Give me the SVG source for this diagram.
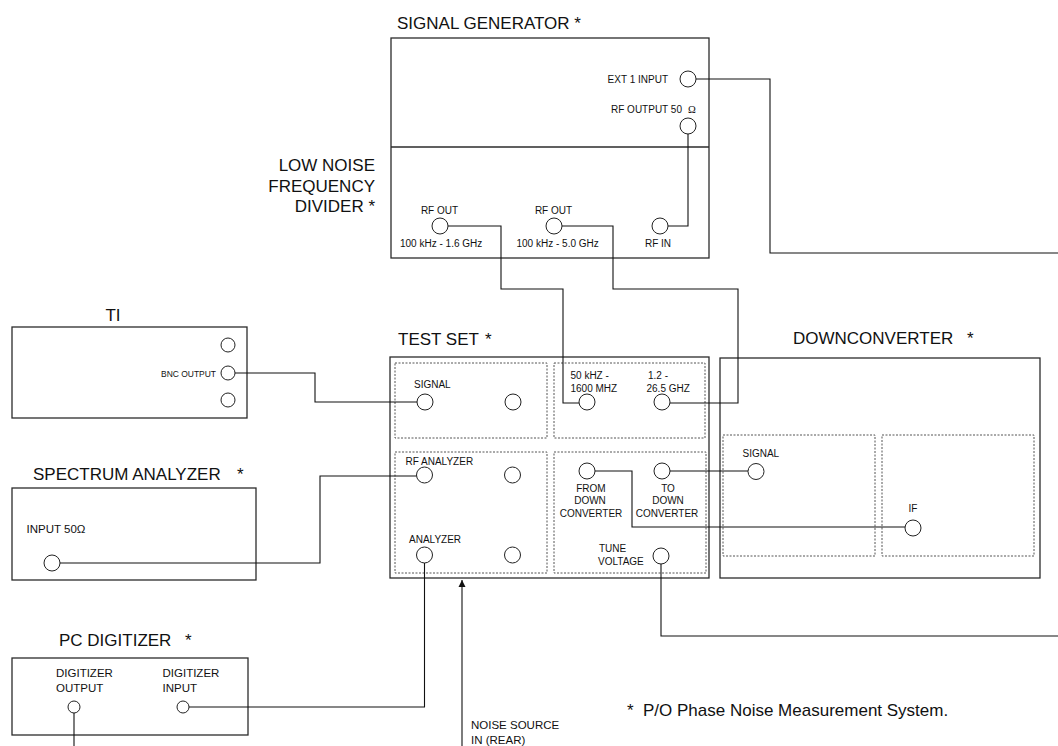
<svg xmlns="http://www.w3.org/2000/svg" width="1058" height="746" viewBox="0 0 1058 746">
<defs>
<style>
.box{fill:#fff;stroke:#2b2b2b;stroke-width:1.3}
.panel{fill:none;stroke:#555;stroke-width:1;stroke-dasharray:2 1.5}
.port{fill:#fff;stroke:#222;stroke-width:1}
.wire{fill:none;stroke:#111;stroke-width:1.1}
.title{font-family:"Liberation Sans",Arial,sans-serif;font-size:17px;fill:#111}
.lbl{font-family:"Liberation Sans",Arial,sans-serif;font-size:10px;fill:#111}
.lbl2{font-family:"Liberation Sans",Arial,sans-serif;font-size:11.5px;fill:#111}
.ser{font-family:"Liberation Serif","Times New Roman",serif;font-size:10.5px;fill:#111}
.mid{text-anchor:middle}
.end{text-anchor:end}
</style>
<marker id="arr" viewBox="0 0 10 10" refX="10" refY="5" markerWidth="7" markerHeight="9" markerUnits="userSpaceOnUse" orient="auto">
<path d="M0,0 L10,5 L0,10 Z" fill="#111"/>
</marker>
</defs>
<rect width="1058" height="746" fill="#fff"/>

<g id="signal-generator">
<text class="title" x="397" y="28.5">SIGNAL GENERATOR *</text>
<rect class="box" x="391" y="38" width="318" height="220"/>
<text class="lbl end" x="668" y="82.5">EXT 1 INPUT</text>
<circle class="port" cx="688" cy="79" r="8"/>
<text class="lbl" x="611" y="112.5">RF OUTPUT 50</text>
<text class="ser mid" x="692" y="112.5">Ω</text>
<circle class="port" cx="688" cy="126" r="8"/>
</g>

<g id="low-noise-frequency-divider">
<line x1="391" y1="147" x2="709" y2="147" stroke="#2b2b2b" stroke-width="1.3"/>
<text class="title end" x="375" y="171">LOW NOISE</text>
<text class="title end" x="375" y="191.5">FREQUENCY</text>
<text class="title end" x="375" y="212">DIVIDER *</text>
<text class="lbl mid" x="439.5" y="214">RF OUT</text>
<circle class="port" cx="440" cy="226" r="8"/>
<text class="lbl" x="400" y="247">100 kHz - 1.6 GHz</text>
<text class="lbl mid" x="553.5" y="214">RF OUT</text>
<circle class="port" cx="554" cy="226" r="8"/>
<text class="lbl" x="516.5" y="247">100 kHz - 5.0 GHz</text>
<text class="lbl mid" x="658" y="247">RF IN</text>
<circle class="port" cx="660" cy="226" r="8"/>
</g>

<g id="ti">
<text class="title mid" x="113" y="320.5">TI</text>
<rect class="box" x="12" y="327" width="235" height="91"/>
<circle class="port" cx="228" cy="345" r="7"/>
<text class="lbl end" x="216" y="376.5" style="font-size:9.5px" textLength="55" lengthAdjust="spacingAndGlyphs">BNC OUTPUT</text>
<circle class="port" cx="228" cy="373" r="7"/>
<circle class="port" cx="228" cy="400" r="7"/>
</g>

<g id="spectrum-analyzer">
<text class="title" x="33" y="480">SPECTRUM ANALYZER</text>
<text class="title" x="237" y="480">*</text>
<rect class="box" x="12" y="488" width="244" height="92"/>
<text class="lbl2" x="26.5" y="533">INPUT 50Ω</text>
<circle class="port" cx="52" cy="563" r="8"/>
</g>

<g id="test-set">
<text class="title" x="398" y="345">TEST SET</text>
<text class="title" x="485" y="345">*</text>
<rect class="box" x="390" y="357" width="319" height="221"/>
<rect class="panel" x="395" y="363" width="152" height="75"/>
<rect class="panel" x="554" y="363" width="151" height="75"/>
<rect class="panel" x="395" y="452" width="152" height="121"/>
<rect class="panel" x="554" y="452" width="152" height="121"/>
<text class="lbl" x="414" y="388">SIGNAL</text>
<circle class="port" cx="425" cy="402" r="8"/>
<circle class="port" cx="513" cy="402" r="8"/>
<text class="lbl" x="570.5" y="379">50 kHZ -</text>
<text class="lbl" x="570.5" y="391.5">1600 MHZ</text>
<circle class="port" cx="587" cy="402" r="8"/>
<text class="lbl" x="648" y="379">1.2 -</text>
<text class="lbl" x="646.5" y="391.5">26.5 GHZ</text>
<circle class="port" cx="662" cy="402" r="8"/>
<text class="lbl" x="405.5" y="465">RF ANALYZER</text>
<circle class="port" cx="424.5" cy="475" r="8"/>
<circle class="port" cx="512.5" cy="475" r="8"/>
<text class="lbl" x="409" y="543">ANALYZER</text>
<circle class="port" cx="424.5" cy="555" r="8"/>
<circle class="port" cx="512.5" cy="555" r="8"/>
<circle class="port" cx="587" cy="471" r="8"/>
<text class="lbl mid" x="591" y="491.5">FROM</text>
<text class="lbl mid" x="590" y="504">DOWN</text>
<text class="lbl mid" x="591" y="516.5">CONVERTER</text>
<circle class="port" cx="662" cy="471" r="8"/>
<text class="lbl mid" x="668" y="491.5">TO</text>
<text class="lbl mid" x="668" y="504">DOWN</text>
<text class="lbl mid" x="667" y="516.5">CONVERTER</text>
<text class="lbl" x="599" y="551.5">TUNE</text>
<text class="lbl" x="598" y="565">VOLTAGE</text>
<circle class="port" cx="661" cy="556" r="8"/>
</g>

<g id="downconverter">
<text class="title" x="793" y="344">DOWNCONVERTER</text>
<text class="title" x="967" y="344">*</text>
<rect class="box" x="720" y="358" width="320" height="220"/>
<rect class="panel" x="723" y="435" width="152" height="121"/>
<rect class="panel" x="882" y="435" width="152" height="121"/>
<text class="lbl" x="742.5" y="457">SIGNAL</text>
<circle class="port" cx="756" cy="471.5" r="8"/>
<text class="lbl mid" x="913" y="511.5">IF</text>
<circle class="port" cx="913" cy="528" r="8"/>
</g>

<g id="pc-digitizer">
<text class="title" x="59" y="646">PC DIGITIZER</text>
<text class="title" x="185" y="646">*</text>
<rect class="box" x="12" y="658" width="236" height="77"/>
<text class="lbl2" x="56" y="677">DIGITIZER</text>
<text class="lbl2" x="56" y="691.5">OUTPUT</text>
<circle class="port" cx="74" cy="707" r="6"/>
<text class="lbl2" x="162.5" y="677">DIGITIZER</text>
<text class="lbl2" x="162.5" y="691.5">INPUT</text>
<circle class="port" cx="183" cy="707" r="6"/>
</g>

<g id="noise-source">
<text class="lbl2" x="471" y="729">NOISE SOURCE</text>
<text class="lbl2" x="471" y="744">IN (REAR)</text>
</g>

<g id="footnote">
<text class="title" x="627" y="715.5">*</text>
<text class="title" x="643" y="715.5">P/O Phase Noise Measurement System.</text>
</g>

<g id="connectors">
<path class="wire" d="M696,79 H770 V253 H1058"/>
<path class="wire" d="M688,134 V226 H668"/>
<path class="wire" d="M448,226 H501 V289 H563 V403 H579"/>
<path class="wire" d="M562,226 H613 V289 H738 V403 H670"/>
<path class="wire" d="M235,373 H315 V402 H417"/>
<path class="wire" d="M60,563 H320 V476 H416.5"/>
<path class="wire" d="M595,471 H632 V527 H905"/>
<path class="wire" d="M670,471 H748"/>
<path class="wire" d="M661,564 V636 H1058"/>
<path class="wire" d="M424.5,563 V707 H189"/>
<path class="wire" d="M74,713 V746"/>
<path class="wire" d="M462,746 V580" marker-end="url(#arr)"/>
</g>
</svg>
